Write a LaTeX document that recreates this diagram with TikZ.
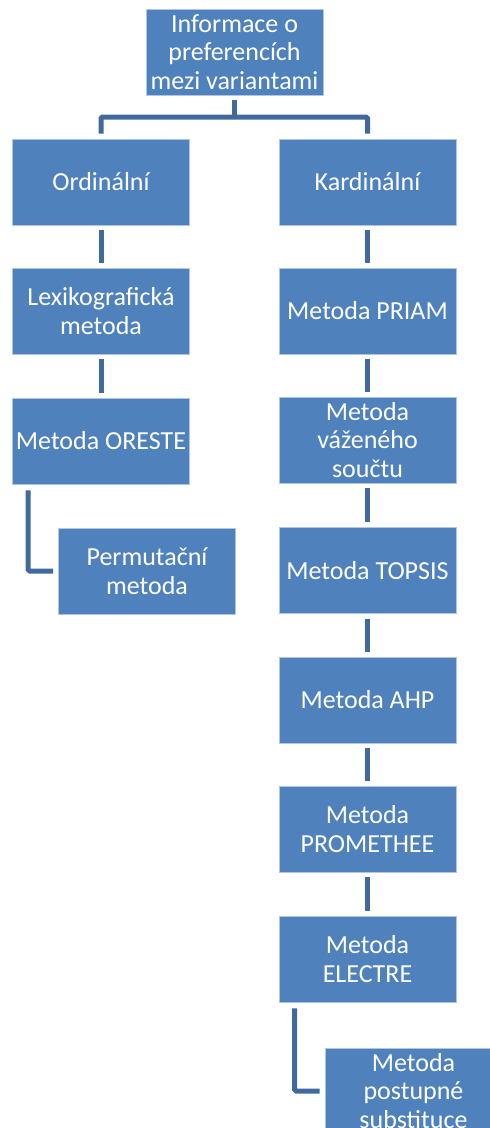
\documentclass[tikz,border=0pt]{standalone}
\usepackage{fontspec}
\setmainfont{Carlito}
\definecolor{boxblue}{HTML}{4F81BD}
\definecolor{lineblue}{HTML}{41699C}

\begin{document}
\begin{tikzpicture}[x = 1pt, y = -1pt, box/.style = {draw = white!55!boxblue, fill = boxblue, line width = 0.8pt, text = white, minimum width = 177pt, minimum height = 86pt, inner sep = 1pt, align = center, font = \fontsize{26}{28.5}\selectfont}, conn/.style = {draw = lineblue, line width = 5pt, rounded corners = 1.5pt}]
					\useasboundingbox (0,0) rectangle (490,1128);
					\clip (0,0) rectangle (490,1128);
					\node[box] (inf) at (234.5,52) {Informace o\\preferencích\\mezi variantami};
					\node[box] (ord) at (101,182) {Ordinální};
					\node[box] (lex) at (101,311) {Lexikografická\\metoda};
					\node[box] (ore) at (101,441) {Metoda ORESTE};
					\node[box] (per) at (147,571) {Permutační\\metoda};
					\node[box] (kar) at (367.5,182) {Kardinální};
					\node[box] (pri) at (367.5,311) {Metoda PRIAM};
					\node[box] (vaz) at (367.5,440) {Metoda\\váženého\\součtu};
					\node[box] (top) at (367.5,570.5) {Metoda TOPSIS};
					\node[box] (ahp) at (367.5,700) {Metoda AHP};
					\node[box] (pro) at (367.5,829) {Metoda\\PROMETHEE};
					\node[box] (ele) at (367.5,959) {Metoda\\ELECTRE};
					\node[box] (sub) at (413.5,1091) {Metoda\\postupné\\substituce};
					\coordinate (fork) at (234.5,117);
					\draw[conn] ([yshift=-5pt]inf.south) -- (fork);
					\draw[conn] ([yshift=5pt]ord.north) |- (fork) -| ([yshift=5pt]kar.north);
					\draw[conn] ([yshift=-5pt]ord.south) -- ([yshift=5pt]lex.north) ([yshift=-5pt]lex.south) -- ([yshift=5pt]ore.north);
					\draw[conn] ([xshift=16pt,yshift=-6pt]ore.south west) |- ([xshift=-5pt]per.west);
					\draw[conn] ([yshift=-5pt]kar.south) -- ([yshift=5pt]pri.north) ([yshift=-5pt]pri.south) -- ([yshift=5pt]vaz.north) ([yshift=-5pt]vaz.south) -- ([yshift=5pt]top.north);
					\draw[conn] ([yshift=-5pt]top.south) -- ([yshift=5pt]ahp.north) ([yshift=-5pt]ahp.south) -- ([yshift=5pt]pro.north) ([yshift=-5pt]pro.south) -- ([yshift=5pt]ele.north);
					\draw[conn] ([xshift=16pt,yshift=-6pt]ele.south west) |- ([xshift=-5pt]sub.west);
				\end{tikzpicture}
\end{document}
